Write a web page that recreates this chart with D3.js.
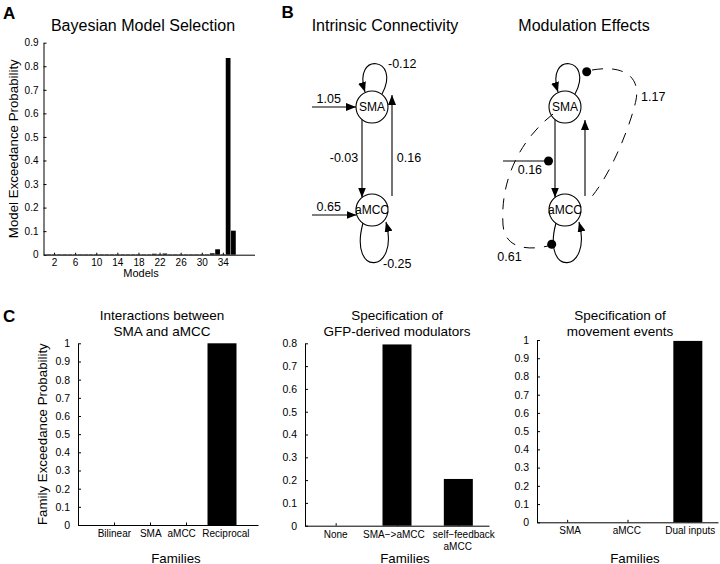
<!DOCTYPE html>
<html><head><meta charset="utf-8">
<script src="https://cdn.jsdelivr.net/npm/d3@7"></script>
<style>
body{margin:0;background:#fff}
svg{display:block;font-family:"Liberation Sans",Arial,Helvetica,sans-serif}
</style>
</head><body>
<svg id="c" width="720" height="564"></svg>
<script>
// ---------- Panel A data ----------
const modelIds = [1,2,3,4,5,6,7,8,9,10,11,12,13,14,15,16,17,18,19,20,21,22,23,24,25,26,27,28,29,30,31,32,33,34,35,36];
const modelProb = [0.002,0.002,0.002,0.002,0.002,0.002,0.002,0.002,0.002,0.002,0.002,0.002,0.002,0.002,0.002,0.002,0.002,0.002,0.002,0.002,
                   0.004,0.002,0.005,0.002,0.002,0.002,0.002,0.002,0.002,0.002,0.002,0.006,0.023,0.002,0.835,0.102];
const modelTickLabels = [2,6,10,14,18,22,26,30,34];
const probTicksA = [0,0.1,0.2,0.3,0.4,0.5,0.6,0.7,0.8,0.9];

// ---------- Panel B data ----------
const regions = ["SMA","aMCC"];
const diagrams = ["Intrinsic Connectivity","Modulation Effects"];
const intrinsicInput = [1.05, 0.65];      // driving input to SMA, aMCC
const intrinsicSelf = [-0.12, -0.25];     // self connections SMA, aMCC
const intrinsicSMAtoAMCC = -0.03;
const intrinsicAMCCtoSMA = 0.16;
const modInputOnForward = 0.16;
const modSelfSMA = 1.17;
const modSelfAMCC = 0.61;

// ---------- Panel C data ----------
const famInteractions = ["Bilinear","SMA","aMCC","Reciprocal"];
const famInteractionsProb = [0,0,0,1.0];
const famModulators = [["None"],["SMA−>aMCC"],["self−feedback","aMCC"]];
const famModulatorsProb = [0,0.795,0.205];
const famEvents = ["SMA","aMCC","Dual inputs"];
const famEventsProb = [0,0,0.995];
const probTicksC1 = [0,0.1,0.2,0.3,0.4,0.5,0.6,0.7,0.8,0.9,1];
const probTicksC2 = [0,0.1,0.2,0.3,0.4,0.5,0.6,0.7,0.8];

// label placement (in category units, as typed in the original figure)
const labelAtC1 = [[1.01],[2.02],[2.88],[4.11]];
const labelAtC2 = [[1.0],[1.95],[3.09,2.99]];
const labelAtC3 = [[1.05],[1.99],[3.04]];

const svg = d3.select("#c");
const fmt = d => String(d);

function styleAxis(g){
  g.selectAll("path.domain").attr("stroke","#000").attr("stroke-width",1);
  g.selectAll(".tick line").attr("stroke","#000");
  g.selectAll("text").attr("fill","#000").style("font-family",'"Liberation Sans",Arial,sans-serif');
}

// ---------- Panel A ----------
{
  const x = d3.scaleLinear().domain([0,40]).range([43.5,254.5]);
  const y = d3.scaleLinear().domain([0,0.9]).range([254.7,42.7]);
  const g = svg.append("g");
  const bw = (x(1)-x(0))*0.9;
  g.selectAll("rect").data(modelIds).join("rect")
    .attr("x", (d)=>x(d)-bw/2)
    .attr("width", bw)
    .attr("y", (d,i)=>y(modelProb[i]))
    .attr("height",(d,i)=>y(0)-y(modelProb[i]))
    .attr("fill","#000");
  const ya = g.append("g").attr("transform",`translate(${x(0)},0)`)
    .call(d3.axisLeft(y).tickValues(probTicksA).tickFormat(fmt).tickSize(-3).tickSizeOuter(0).tickPadding(5));
  ya.selectAll("text").attr("font-size",10);
  styleAxis(ya);
  const xa = g.append("g").attr("transform",`translate(0,${y(0)})`)
    .call(d3.axisBottom(x).tickValues(modelTickLabels).tickFormat(fmt).tickSize(-2).tickSizeOuter(0).tickPadding(4));
  xa.selectAll("text").attr("font-size",10);
  styleAxis(xa);
  g.append("text").attr("x",143).attr("y",30.5).attr("text-anchor","middle").attr("font-size",16).text("Bayesian Model Selection");
  g.append("text").attr("x",(x(0)+x(37))/2).attr("y",276.5).attr("text-anchor","middle").attr("font-size",11).text("Models");
  g.append("text").attr("transform",`translate(17.5,${(y(0)+y(0.9))/2}) rotate(-90)`).attr("text-anchor","middle").attr("font-size",13.3).text("Model Exceedance Probability");
}

// ---------- panel letters ----------
svg.append("text").attr("x",3).attr("y",18.5).attr("font-size",17).attr("font-weight","bold").text("A");
svg.append("text").attr("x",281.5).attr("y",17.5).attr("font-size",17).attr("font-weight","bold").text("B");
svg.append("text").attr("x",3).attr("y",322).attr("font-size",17).attr("font-weight","bold").text("C");

// ---------- Panel B ----------
const defs = svg.append("defs");
defs.append("marker").attr("id","arr").attr("viewBox","0 0 10 8").attr("refX",10).attr("refY",4)
  .attr("markerWidth",10).attr("markerHeight",8).attr("markerUnits","userSpaceOnUse").attr("orient","auto")
  .append("path").attr("d","M0,0L10,4L0,8Z").attr("fill","#000");

const dx = d3.scalePoint().domain(diagrams).range([372,565]);
const dy = d3.scalePoint().domain(regions).range([107,210]);
const R = 16;

diagrams.forEach((name,k)=>{
  const g = svg.append("g").attr("transform",`translate(${dx(name)},0)`);
  g.append("text").attr("x",k===0?13:19).attr("y",31).attr("text-anchor","middle").attr("font-size",16).text(name);
  const ys = dy("SMA"), ya = dy("aMCC");
  const line = (x1,y1,x2,y2,arrow)=>{
    const l = g.append("line").attr("x1",x1).attr("y1",y1).attr("x2",x2).attr("y2",y2)
      .attr("stroke","#000").attr("stroke-width",1.1);
    if(arrow) l.attr("marker-end","url(#arr)");
  };
  // forward SMA -> aMCC
  line(-10, ys+12.5, -10, ya-12.5, true);
  // backward aMCC -> SMA
  line(20, ya-14, 20, k===0 ? ys-12 : ys+13, true);
  // self loops
  g.append("path").attr("d",`M10,${ys-13}C30,${ys-50} -20,${ys-56} -7,${ys-15}`)
    .attr("fill","none").attr("stroke","#000").attr("stroke-width",1.1).attr("marker-end","url(#arr)");
  g.append("path").attr("d",`M-9,${ya+13}C-24,${ya+68} 28,${ya+64} 14,${ya+12}`)
    .attr("fill","none").attr("stroke","#000").attr("stroke-width",1.1).attr("marker-end","url(#arr)");
  // nodes
  regions.forEach(r=>{
    g.append("circle").attr("cx",0).attr("cy",dy(r)).attr("r",R).attr("fill","#fff").attr("stroke","#000").attr("stroke-width",1.1);
    g.append("text").attr("x",0).attr("y",dy(r)+4.3).attr("text-anchor","middle").attr("font-size",12).text(r);
  });
  if(k===0){
    line(-60, ys, -R, ys, true);
    line(-60, ya+5, -R+0.5, ya+5, true);
    const lab = (t,x,y,anchor)=>g.append("text").attr("x",x).attr("y",y).attr("text-anchor",anchor||"start").attr("font-size",12.5).text(t);
    lab(intrinsicInput[0].toFixed(2), -55.5, 102.5);
    lab(intrinsicInput[1].toFixed(2), -55.5, 211);
    lab(intrinsicSelf[0].toFixed(2), 16, 67.5);
    lab(intrinsicSelf[1].toFixed(2), 11, 267.5);
    lab(intrinsicSMAtoAMCC.toFixed(2), -28, 161.5, "middle");
    lab(intrinsicAMCCtoSMA.toFixed(2), 37, 161.5, "middle");
  } else {
    line(-62, ys+54, -13, ys+54, false);
    g.append("circle").attr("cx",-16.5).attr("cy",ys+54).attr("r",4.5).attr("fill","#000");
    g.append("path").attr("d",`M27,${ys-37}C63,${ys-43} 75,${ys-27} 71,${ys-7}S47,${ys+68} 23,${ys+94}`)
      .attr("fill","none").attr("stroke","#000").attr("stroke-width",1).attr("stroke-dasharray","11,9");
    g.append("path").attr("d",`M-12,${ys+7}C-45,${ys+33} -65,${ys+73} -62,${ys+118}C-60,${ys+143} -35,${ys+143} -17,${ys+139}`)
      .attr("fill","none").attr("stroke","#000").attr("stroke-width",1).attr("stroke-dasharray","11,9");
    g.append("circle").attr("cx",21.7).attr("cy",ys-35.3).attr("r",4.5).attr("fill","#000");
    g.append("circle").attr("cx",-13.3).attr("cy",ya+34.3).attr("r",4.5).attr("fill","#000");
    const lab = (t,x,y)=>g.append("text").attr("x",x).attr("y",y).attr("font-size",12.5).text(t);
    lab(modSelfSMA.toFixed(2), 76, ys-6);
    lab(modInputOnForward.toFixed(2), -47.3, ys+67);
    lab(modSelfAMCC.toFixed(2), -67.7, ys+154);
  }
});

// ---------- Panel C ----------
function barChart(o){
  const g = svg.append("g");
  const x = d3.scaleLinear().domain(o.xdom).range(o.xr);
  const y = d3.scaleLinear().domain(o.ydom).range(o.yr);
  const idx = o.cats.map((c,i)=>i+1);
  const bw = 29;
  g.selectAll("rect").data(idx).join("rect")
    .attr("x",d=>x(d)-bw/2).attr("width",bw)
    .attr("y",(d,i)=>y(o.vals[i])).attr("height",(d,i)=>y(0)-y(o.vals[i]))
    .attr("fill","#000");
  const ya = g.append("g").attr("transform",`translate(${o.xr[0]},0)`)
    .call(d3.axisLeft(y).tickValues(o.yticks).tickFormat(fmt).tickSize(-3).tickSizeOuter(0).tickPadding(8));
  ya.selectAll("text").attr("font-size",10.5);
  styleAxis(ya);
  const xa = g.append("g").attr("transform",`translate(0,${o.yr[0]})`)
    .call(d3.axisBottom(x).tickValues(idx).tickFormat("").tickSize(-2.5).tickSizeOuter(0));
  styleAxis(xa);
  o.cats.forEach((c,i)=>{
    const lines = Array.isArray(c) ? c : [c];
    lines.forEach((t,j)=>{
      const at = o.labelAt[i][j] !== undefined ? o.labelAt[i][j] : o.labelAt[i][0];
      g.append("text").attr("x",x(at)).attr("y",o.yr[0]+12+j*12.5).attr("text-anchor","middle").attr("font-size",10).text(t);
    });
  });
  o.title.forEach((t,j)=>{
    g.append("text").attr("x",o.tx).attr("y",319.5+j*16.5).attr("text-anchor","middle").attr("font-size",13.5).text(t);
  });
  g.append("text").attr("x",o.fx).attr("y",562.5).attr("text-anchor","middle").attr("font-size",13.3).text("Families");
  if(o.ylabel){
    g.append("text").attr("transform",`translate(46.5,${(o.yr[0]+o.yr[1])/2}) rotate(-90)`).attr("text-anchor","middle").attr("font-size",13.3).text(o.ylabel);
  }
}
barChart({cats:famInteractions, vals:famInteractionsProb, labelAt:labelAtC1, xdom:[0,5], xr:[78,258], ydom:[0,1], yr:[525,343.3],
  yticks:probTicksC1, title:["Interactions between","SMA and aMCC"], tx:162, fx:176, ylabel:"Family Exceedance Probability"});
barChart({cats:famModulators, vals:famModulatorsProb, labelAt:labelAtC2, xdom:[0.5,3.5], xr:[305,489], ydom:[0,0.8], yr:[525.7,343.3],
  yticks:probTicksC2, title:["Specification of","GFP-derived modulators"], tx:397, fx:405});
barChart({cats:famEvents, vals:famEventsProb, labelAt:labelAtC3, xdom:[0.5,3.5], xr:[537,718], ydom:[0,1], yr:[522.3,340],
  yticks:probTicksC1, title:["Specification of","movement events"], tx:620, fx:635});
</script>
</body></html>
